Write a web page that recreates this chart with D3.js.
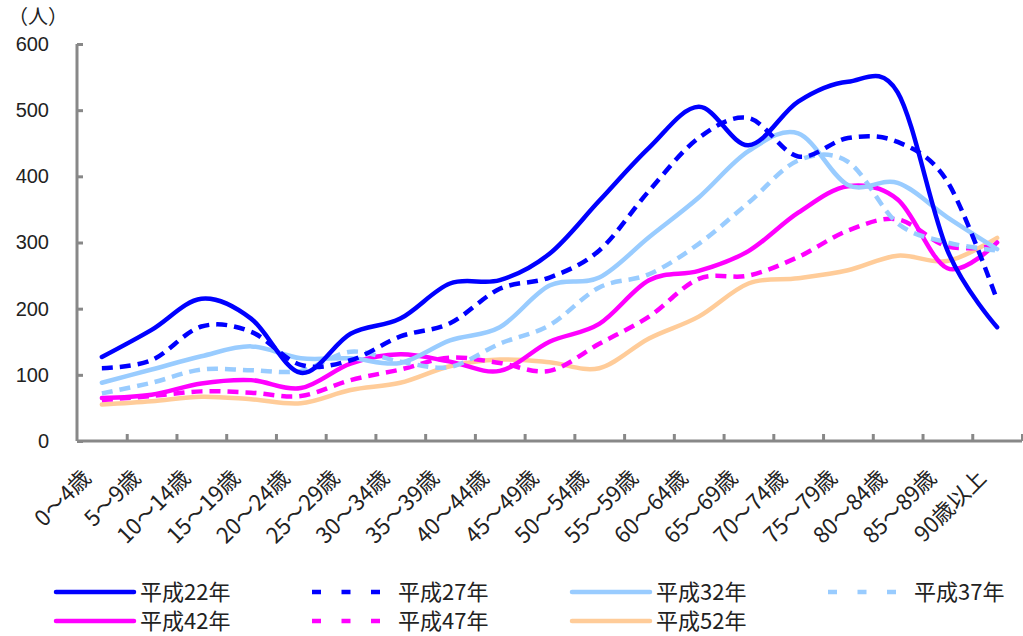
<!DOCTYPE html>
<html><head><meta charset="utf-8">
<script src="https://cdn.jsdelivr.net/npm/d3@7"></script>
<style>
html,body{margin:0;padding:0;background:#fff;}
svg{display:block;font-family:"Noto Sans CJK JP","Noto Sans",sans-serif;}
</style></head>
<body><svg id="c" width="1023" height="636"></svg>
<script>
const categories = ["0～4歳","5～9歳","10～14歳","15～19歳","20～24歳","25～29歳","30～34歳","35～39歳","40～44歳","45～49歳","50～54歳","55～59歳","60～64歳","65～69歳","70～74歳","75～79歳","80～84歳","85～89歳","90歳以上"];
const yTicks = [0,100,200,300,400,500,600];
const seriesNames = ["平成22年","平成27年","平成32年","平成37年","平成42年","平成47年","平成52年"];
const h22 = [127,168,215,185,103,162,185,238,243,283,363,443,505,447,513,543,527,288,172];
const h27 = [110,122,173,165,115,122,158,178,230,247,288,378,458,488,430,458,452,392,213];
const h32 = [88,108,128,143,125,125,118,152,172,235,247,308,368,438,465,387,390,338,290];
const h37 = [72,88,108,107,106,135,120,112,147,175,232,252,298,360,424,422,329,300,288];
const h42 = [65,70,87,92,80,117,131,120,106,150,177,243,257,287,345,385,365,261,300];
const h47 = [62,68,75,73,68,92,108,126,118,106,147,188,245,250,278,318,335,294,295];
const h52 = [55,60,67,63,57,77,88,113,123,119,110,155,188,238,246,258,280,272,307];
const seriesValues = [h22,h27,h32,h37,h42,h47,h52];
const seriesColors = ["#0000FF","#0000FF","#99CCFF","#99CCFF","#FF00FF","#FF00FF","#FFCC99"];
const seriesDashed = [false,true,false,true,false,true,false];

const svg = d3.select("#c");
const x = d3.scaleBand().domain(categories).range([77,1022]).paddingInner(0).paddingOuter(0);
const cx = c => x(c) + x.bandwidth()/2;
const y = d3.scaleLinear().domain([0,600]).range([441,44]);
const gray = "#888888";

// y axis
const ya = svg.append("g").attr("transform","translate(77,0)")
  .call(d3.axisLeft(y).tickValues(yTicks).tickSize(-6).tickPadding(28));
ya.select(".domain").attr("stroke",gray).attr("stroke-width",3).attr("d","M0,44V441");
ya.selectAll(".tick line").attr("stroke",gray).attr("stroke-width",3);
ya.selectAll(".tick text").attr("font-size",20).attr("fill","#222").attr("font-family","Liberation Sans, Arial, sans-serif");

// x axis
const xi = d3.scaleLinear().domain([0,categories.length]).range([77,1022]);
const xa = svg.append("g").attr("transform","translate(0,441)")
  .call(d3.axisBottom(xi).tickValues(d3.range(1,categories.length+1)).tickSize(-7).tickFormat(""));
xa.select(".domain").attr("stroke",gray).attr("stroke-width",3).attr("d","M77,0H1022");
xa.selectAll(".tick line").attr("stroke",gray).attr("stroke-width",3);

// x labels
const lf = 22;
const labLen = s => Array.from(s).reduce((a,ch)=>a + (ch.charCodeAt(0)<128 ? 0.55 : 1), 0) * lf;
svg.append("g").selectAll("text").data(categories).join("text")
  .attr("transform", d => `translate(${cx(d)-15},474) rotate(-45)`)
  .attr("text-anchor","end").attr("font-size",lf).attr("fill","#222")
  .attr("dy","0.35em")
  .attr("textLength", d => labLen(d)).attr("lengthAdjust","spacingAndGlyphs")
  .text(d => d);

// y unit label
svg.append("text").attr("x",8).attr("y",24).attr("font-size",20).attr("fill","#222").text("（人）");

// lines
const line = d3.line().x((d,i)=>cx(categories[i])).y(d=>y(d)).curve(d3.curveCatmullRom.alpha(0));
const order = [6,5,4,3,2,1,0];
order.forEach(k=>{
  svg.append("path").attr("d", line(seriesValues[k]))
    .attr("fill","none").attr("stroke",seriesColors[k]).attr("stroke-width",4.5)
    .attr("stroke-linejoin","round").attr("stroke-linecap", seriesDashed[k]?"butt":"round")
    .attr("stroke-dasharray", seriesDashed[k] ? "11,7" : null);
});

// legend
const legX = [54,312,570,828];
const legY = [592,621];
seriesNames.forEach((n,k)=>{
  const col = k<4 ? k : k-4, row = k<4 ? 0 : 1;
  const x0 = legX[col], yy = legY[row];
  const g = svg.append("g");
  if (seriesDashed[k]) {
    g.append("line").attr("x1",x0).attr("x2",x0+68).attr("y1",yy).attr("y2",yy)
      .attr("stroke",seriesColors[k]).attr("stroke-width",4.5).attr("stroke-dasharray","9,20.5");
  } else {
    g.append("line").attr("x1",x0+2).attr("x2",x0+80).attr("y1",yy).attr("y2",yy)
      .attr("stroke",seriesColors[k]).attr("stroke-width",4.5).attr("stroke-linecap","round");
  }
  g.append("text").attr("x",x0+86).attr("y",yy).attr("dy","0.36em").attr("font-size",22).attr("fill","#222").text(n);
});
</script></body></html>
